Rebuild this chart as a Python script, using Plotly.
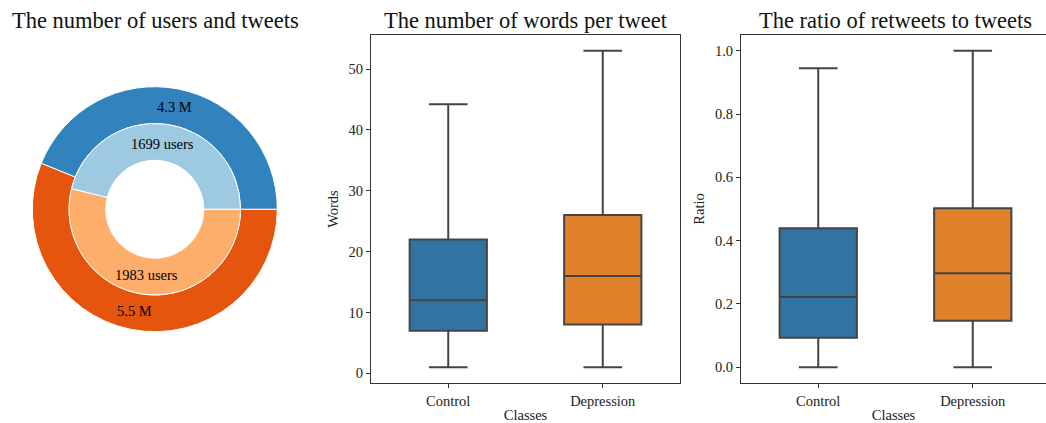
import math
import plotly.graph_objects as go

# ---- data ----
pie_labels = ["Control", "Depression"]
tweets_millions = [4.3, 5.5]
tweet_text = ["4.3 M", "5.5 M"]
users = [1699, 1983]
user_text = ["1699 users", "1983 users"]

classes = ["Control", "Depression"]
words_low = [1, 1]
words_q1 = [7, 8]
words_med = [12, 16]
words_q3 = [22, 26]
words_high = [44.2, 53]

ratio_low = [0.0, 0.0]
ratio_q1 = [0.093, 0.147]
ratio_med = [0.222, 0.297]
ratio_q3 = [0.439, 0.502]
ratio_high = [0.945, 1.0]

box_colors = ["#3274a1", "#e1812c"]
outer_colors = ["#3182bd", "#e6550d"]
inner_colors = ["#9ecae1", "#fdae6b"]

W, H = 1046, 423
FONT = "Liberation Serif, Times New Roman, serif"
EDGE = "#444444"
SPINE = "#333333"

fig = go.Figure()

# ---- nested donut (slices listed in reverse so that, drawn clockwise from
# 3 o'clock, Control ends up counter-clockwise from 3 o'clock like matplotlib) ----
cx, cy, R = 154.8, 209.2, 122.5
def dom(r):
    return dict(x=[(cx - r) / W, (cx + r) / W], y=[1 - (cy + r) / H, 1 - (cy - r) / H])

fig.add_trace(go.Pie(
    labels=pie_labels[::-1], values=tweets_millions[::-1],
    textinfo="none", hoverinfo="label+value",
    marker=dict(colors=outer_colors[::-1], line=dict(color="white", width=1)),
    hole=0.7, sort=False, direction="clockwise", rotation=90,
    domain=dom(R), showlegend=False,
))
fig.add_trace(go.Pie(
    labels=pie_labels[::-1], values=users[::-1],
    textinfo="none", hoverinfo="label+value",
    marker=dict(colors=inner_colors[::-1], line=dict(color="white", width=1)),
    hole=0.4 / 0.7, sort=False, direction="clockwise", rotation=90,
    domain=dom(R * 0.7), showlegend=False,
))

# slice labels placed at each wedge's mid-angle (matplotlib style), derived from the values
def wedge_labels(values, texts, rfrac):
    out = []
    total = sum(values)
    start = 0.0
    for v, t in zip(values, texts):
        span = 360.0 * v / total
        mid = math.radians(start + span / 2)
        px = cx + rfrac * R * math.cos(mid)
        py = cy - rfrac * R * math.sin(mid)
        out.append(dict(text=t, x=px / W, y=1 - py / H, xref="paper", yref="paper",
                        showarrow=False, xanchor="center", yanchor="middle",
                        font=dict(family=FONT, size=14.5, color="black")))
        start += span
    return out

ydom = [1 - 383 / H, 1 - 35 / H]

# ---- box plots ----
for i, c in enumerate(classes):
    fig.add_trace(go.Box(
        x=[c], q1=[words_q1[i]], median=[words_med[i]], q3=[words_q3[i]],
        lowerfence=[words_low[i]], upperfence=[words_high[i]],
        width=0.5, whiskerwidth=0.5, fillcolor=box_colors[i],
        line=dict(color=EDGE, width=2), xaxis="x", yaxis="y",
        showlegend=False, boxpoints=False,
    ))
    fig.add_trace(go.Box(
        x=[c], q1=[ratio_q1[i]], median=[ratio_med[i]], q3=[ratio_q3[i]],
        lowerfence=[ratio_low[i]], upperfence=[ratio_high[i]],
        width=0.5, whiskerwidth=0.5, fillcolor=box_colors[i],
        line=dict(color=EDGE, width=2), xaxis="x2", yaxis="y2",
        showlegend=False, boxpoints=False,
    ))

axis_common = dict(showline=True, linecolor=SPINE, linewidth=1.2, ticks="outside",
                   ticklen=4, tickcolor=SPINE, tickwidth=1.2, showgrid=False,
                   zeroline=False, tickfont=dict(family=FONT, size=14.5, color="#222"))

titles = [
    dict(text="The number of users and tweets", x=155.5 / W, y=1 - 21 / H,
         xref="paper", yref="paper", showarrow=False, xanchor="center", yanchor="middle",
         font=dict(family=FONT, size=22.5, color="#111")),
    dict(text="The number of words per tweet", x=525.5 / W, y=1 - 21 / H,
         xref="paper", yref="paper", showarrow=False, xanchor="center", yanchor="middle",
         font=dict(family=FONT, size=22.5, color="#111")),
    dict(text="The ratio of retweets to tweets", x=895.5 / W, y=1 - 21 / H,
         xref="paper", yref="paper", showarrow=False, xanchor="center", yanchor="middle",
         font=dict(family=FONT, size=22.5, color="#111")),
]

fig.update_layout(
    width=W, height=H, margin=dict(l=0, r=0, t=0, b=0),
    paper_bgcolor="white", plot_bgcolor="white",
    font=dict(family=FONT, color="#222"),
    xaxis=dict(domain=[371 / W, 680 / W], type="category", range=[-0.5, 1.5],
               mirror=True, anchor="y",
               title=dict(text="Classes", font=dict(family=FONT, size=14.5), standoff=3),
               **axis_common),
    yaxis=dict(domain=ydom, range=[-1.6, 55.6], dtick=10, mirror=True, anchor="x",
               title=dict(text="Words", font=dict(family=FONT, size=14.5), standoff=6),
               **axis_common),
    xaxis2=dict(domain=[741 / W, 1.0], type="category", range=[-0.5, 1.474],
                mirror=True, anchor="y2",
                title=dict(text="Classes", font=dict(family=FONT, size=14.5), standoff=3),
                **axis_common),
    yaxis2=dict(domain=ydom, range=[-0.05, 1.05], dtick=0.2, tickformat=".1f",
                mirror=False, anchor="x2",
                title=dict(text="Ratio", font=dict(family=FONT, size=14.5), standoff=6),
                **axis_common),
    annotations=titles + wedge_labels(tweets_millions, tweet_text, 0.85)
                + wedge_labels(users, user_text, 0.54),
)

fig.write_html("out.html", config={"displayModeBar": False},
               post_script="document.body.style.margin='0';")
